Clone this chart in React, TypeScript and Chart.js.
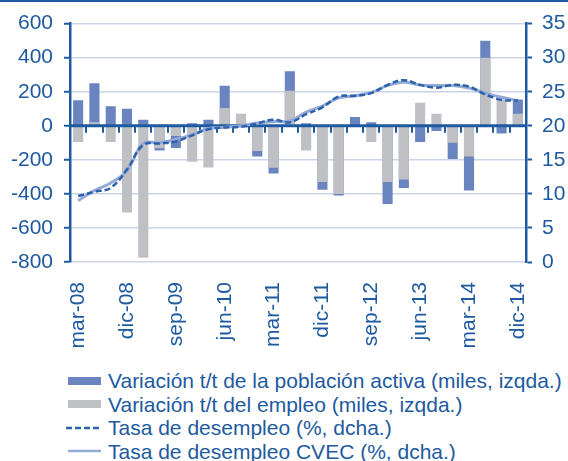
import React, { useEffect, useRef } from 'react';
import { Chart, registerables } from 'chart.js';
Chart.register(...registerables);

const categories = [
  'mar-08', 'jun-08', 'sep-08', 'dic-08',
  'mar-09', 'jun-09', 'sep-09', 'dic-09',
  'mar-10', 'jun-10', 'sep-10', 'dic-10',
  'mar-11', 'jun-11', 'sep-11', 'dic-11',
  'mar-12', 'jun-12', 'sep-12', 'dic-12',
  'mar-13', 'jun-13', 'sep-13', 'dic-13',
  'mar-14', 'jun-14', 'sep-14', 'dic-14',
];

// Variación t/t de la población activa (miles)
const activa = [
  150, 250, 115, 100,
  35, -145, -130, 15,
  35, 235, 40, -180,
  -280, 320, 15, -375,
  -410, 52, 20, -460,
  -365, -95, -30, -195,
  -380, 500, -45, 155,
];

// Variación t/t del empleo (miles)
const empleo = [
  -95, 20, -95, -510,
  -775, -132, -60, -212,
  -245, 105, 70, -148,
  -246, 205, -145, -330,
  -400, -5, -95, -330,
  -315, 135, 70, -100,
  -180, 400, 155, 70,
];

// Tasa de desempleo (%)
const desempleo = [
  9.7, 10.3, 10.9, 13.6,
  17.2, 17.4, 17.7, 18.6,
  19.5, 19.75, 19.85, 20.35,
  20.9, 20.5, 21.7, 22.7,
  24.3, 24.4, 24.8, 26.0,
  26.7, 26.0, 25.6, 26.0,
  25.75, 24.6, 23.8, 23.7,
];

// Tasa de desempleo CVEC (%)
const desempleoCVEC = [
  9.0, 10.5, 11.6, 13.4,
  17.4, 17.5, 18.0, 18.7,
  19.6, 19.8, 20.0, 20.4,
  20.6, 20.7, 22.0, 22.9,
  24.1, 24.4, 24.9, 25.9,
  26.4, 26.0, 25.9, 25.9,
  25.55, 24.8, 24.2, 23.7,
];

const legendLabels = [
  'Variación t/t de la población activa (miles, izqda.)',
  'Variación t/t del empleo (miles, izqda.)',
  'Tasa de desempleo (%, dcha.)',
  'Tasa de desempleo CVEC (%, dcha.)',
];

const AXIS = '#1d5aa0';
const TEXT = '#1d5aa0';
const BLUE_BAR = '#6a84bf';
const GRAY_BAR = '#bfc0c4';
const DASH_LINE = '#2b62ad';
const SOLID_LINE = '#93a9d6';
const GRID = '#c9d4ea';
const FONT = '"Liberation Sans", Arial, sans-serif';

const W = 568;
const H = 360;

const zeroAxisPlugin = {
  id: 'zeroAxis',
  afterDatasetDraw(chart: any, args: any) {
    if (args.index !== 1) return;
    const { ctx, chartArea, scales } = chart;
    const x = scales.x;
    const y = scales.y;
    const y0 = y.getPixelForValue(0);
    ctx.save();
    ctx.strokeStyle = AXIS;
    ctx.lineWidth = 3;
    ctx.beginPath();
    ctx.moveTo(chartArea.left, y0);
    ctx.lineTo(chartArea.right, y0);
    ctx.stroke();
    ctx.lineWidth = 2;
    ctx.beginPath();
    for (let i = 1; i < categories.length; i++) {
      const xp = Math.round((x.getPixelForValue(i - 1) + x.getPixelForValue(i)) / 2);
      ctx.moveTo(xp, y0);
      ctx.lineTo(xp, y0 + 7);
    }
    ctx.stroke();
    ctx.restore();
  },
};

function ChartCanvas() {
  const ref = useRef<HTMLCanvasElement | null>(null);
  useEffect(() => {
    if (!ref.current) return;
    Chart.defaults.font.family = FONT;
    const chart = new Chart(ref.current, {
      type: 'bar',
      data: {
        labels: categories,
        datasets: [
          {
            type: 'bar',
            label: legendLabels[0],
            data: activa,
            backgroundColor: BLUE_BAR,
            borderWidth: 0,
            grouped: false,
            barPercentage: 0.62,
            categoryPercentage: 1,
            yAxisID: 'y',
            order: 3,
          },
          {
            type: 'bar',
            label: legendLabels[1],
            data: empleo,
            backgroundColor: GRAY_BAR,
            borderWidth: 0,
            grouped: false,
            barPercentage: 0.62,
            categoryPercentage: 1,
            yAxisID: 'y',
            order: 2,
          },
          {
            type: 'line',
            label: legendLabels[2],
            data: desempleo,
            borderColor: DASH_LINE,
            borderWidth: 2.5,
            borderDash: [6, 3],
            pointRadius: 0,
            tension: 0.4,
            fill: false,
            yAxisID: 'y1',
            order: 0,
          },
          {
            type: 'line',
            label: legendLabels[3],
            data: desempleoCVEC,
            borderColor: SOLID_LINE,
            borderWidth: 3,
            pointRadius: 0,
            tension: 0.4,
            fill: false,
            yAxisID: 'y1',
            order: 1,
          },
        ] as any,
      },
      options: {
        animation: false,
        responsive: false,
        devicePixelRatio: 1,
        layout: { padding: { top: 23, left: 0, right: 0, bottom: 0 } },
        plugins: {
          legend: { display: false },
          tooltip: { enabled: false },
        },
        scales: {
          x: {
            grid: { display: false, drawTicks: false },
            border: { display: false },
            ticks: {
              autoSkip: false,
              maxRotation: 90,
              minRotation: 90,
              padding: 20,
              color: TEXT,
              font: { size: 21, family: FONT },
              callback: (_v: any, i: number) => (i % 3 === 0 ? categories[i] : ''),
            },
            afterFit: (s: any) => {
              s.height = H - 262;
            },
          },
          y: {
            position: 'left',
            min: -800,
            max: 600,
            ticks: {
              stepSize: 200,
              padding: 11,
              color: TEXT,
              font: { size: 21, family: FONT },
            },
            grid: {
              color: GRID,
              lineWidth: 1.5,
              drawTicks: true,
              tickLength: 6,
              tickColor: AXIS,
              tickWidth: 2,
            },
            border: { color: AXIS, width: 2.5 },
            afterFit: (s: any) => {
              s.width = 70;
            },
          },
          y1: {
            position: 'right',
            min: 0,
            max: 35,
            ticks: {
              stepSize: 5,
              padding: 10,
              color: TEXT,
              font: { size: 21, family: FONT },
            },
            grid: {
              drawOnChartArea: false,
              drawTicks: true,
              tickLength: 6,
              tickColor: AXIS,
              tickWidth: 2,
            },
            border: { color: AXIS, width: 2.5 },
            afterFit: (s: any) => {
              s.width = 42;
            },
          },
        },
      } as any,
      plugins: [zeroAxisPlugin],
    });
    return () => chart.destroy();
  }, []);
  return <canvas ref={ref} width={W} height={H} style={{ display: 'block' }} />;
}

function LegendMarker({ kind }: { kind: number }) {
  if (kind === 0 || kind === 1) {
    return (
      <div
        style={{
          width: 33,
          height: 8,
          background: kind === 0 ? BLUE_BAR : GRAY_BAR,
          marginLeft: 2,
        }}
      />
    );
  }
  if (kind === 2) {
    return (
      <svg width={36} height={6} style={{ display: 'block' }}>
        <line x1={0} y1={3} x2={36} y2={3} stroke={DASH_LINE} strokeWidth={2.5} strokeDasharray="6 3" />
      </svg>
    );
  }
  return (
    <svg width={36} height={6} style={{ display: 'block' }}>
      <line x1={2} y1={3} x2={35} y2={3} stroke={SOLID_LINE} strokeWidth={2.5} />
    </svg>
  );
}

export default function App() {
  return (
    <div style={{ position: 'absolute', left: 0, top: 0, width: W, height: 461, background: '#ffffff', overflow: 'hidden' }}>
      <div style={{ position: 'absolute', left: 0, top: 0, width: W, height: 2, background: AXIS }} />
      <div style={{ position: 'absolute', left: 0, top: 0 }}>
        <ChartCanvas />
      </div>
      <div style={{ position: 'absolute', left: 66, top: 369, fontFamily: FONT, fontSize: 21, color: TEXT }}>
        {legendLabels.map((lab, i) => (
          <div key={i} style={{ display: 'flex', alignItems: 'center', height: 23.5, whiteSpace: 'nowrap' }}>
            <div style={{ width: 42, display: 'flex', alignItems: 'center' }}>
              <LegendMarker kind={i} />
            </div>
            <span style={{ lineHeight: '23.5px' }}>{lab}</span>
          </div>
        ))}
      </div>
    </div>
  );
}
